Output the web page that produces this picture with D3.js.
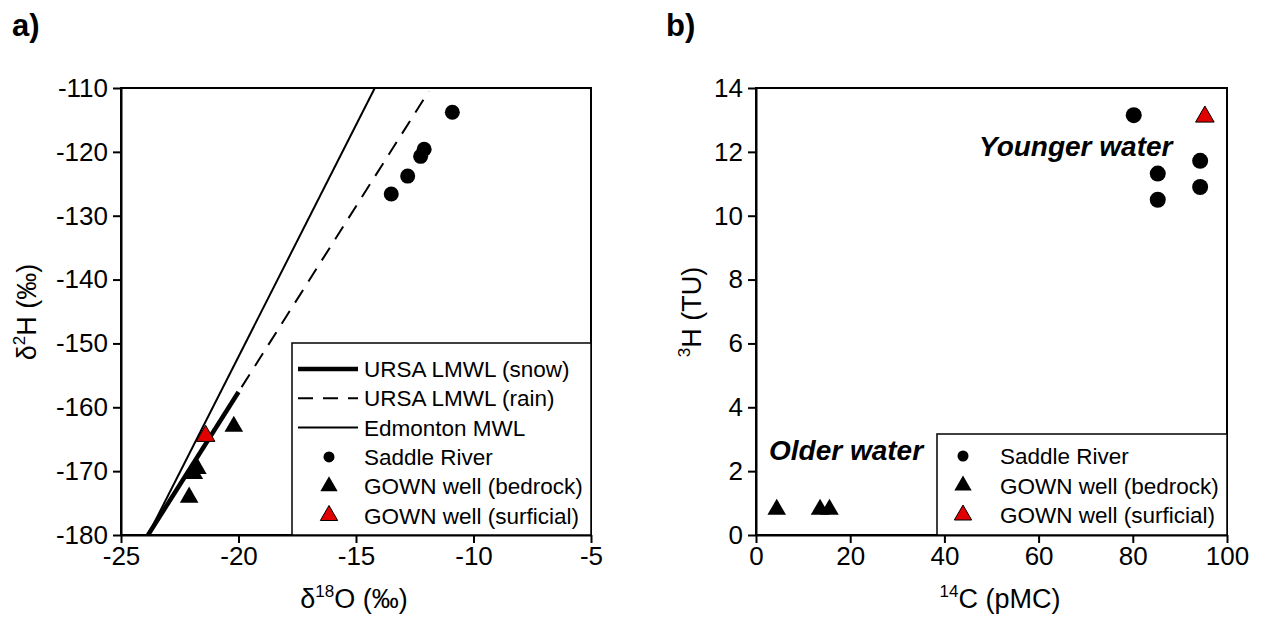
<!DOCTYPE html>
<html>
<head>
<meta charset="utf-8">
<script src="https://cdn.jsdelivr.net/npm/d3@7"></script>
<style>
  body { margin: 0; background: #fff; }
  svg { font-family: "Liberation Sans", Arial, sans-serif; }
  .axis path, .axis line { stroke: #000; stroke-width: 2; }
  .axis text { font-size: 26px; fill: #000; font-family: "Liberation Sans", Arial, sans-serif; }
</style>
</head>
<body>
<script>
// panel a: stable isotopes
var saddleO = [-10.9, -12.1, -12.25, -12.8, -13.5];
var saddleH = [-113.8, -119.6, -120.7, -123.8, -126.6];
var bedrockO = [-20.2, -21.75, -21.9, -22.1];
var bedrockH = [-163.0, -169.6, -170.4, -174.1];
var surficialO = [-21.4];
var surficialH = [-164.5];
// water lines (endpoints)
var snowLine = [[-23.85, -180], [-20.0, -157.6]];
var rainLine = [[-23.85, -180], [-11.9, -110.5]];
var edmontonLine = [[-23.85, -180], [-14.2, -110]];
var xTicksA = [-25, -20, -15, -10, -5];
var yTicksA = [-180, -170, -160, -150, -140, -130, -120, -110];

// panel b: 14C vs tritium
var saddleC = [80.2, 94.3, 85.3, 94.3, 85.3];
var saddleT = [13.15, 11.72, 11.32, 10.9, 10.5];
var bedrockC = [4.4, 13.6, 15.6];
var bedrockT = [0.8, 0.8, 0.8];
var surficialC = [95.3];
var surficialT = [13.1];
var xTicksB = [0, 20, 40, 60, 80, 100];
var yTicksB = [0, 2, 4, 6, 8, 10, 12, 14];

var legendA = ["URSA LMWL (snow)", "URSA LMWL (rain)", "Edmonton MWL", "Saddle River", "GOWN well (bedrock)", "GOWN well (surficial)"];
var legendB = ["Saddle River", "GOWN well (bedrock)", "GOWN well (surficial)"];

var svg = d3.select("body").append("svg")
  .attr("width", 1264)
  .attr("height", 617);

var plotTop = 88, plotBottom = 535;
var red = "#e00000";
var tri = d3.symbol().type(d3.symbolTriangle).size(150);
var triSmall = d3.symbol().type(d3.symbolTriangle).size(130);

// ---------- panel a ----------
var xA = d3.scaleLinear().domain([-25, -5]).range([121, 591]);
var yA = d3.scaleLinear().domain([-180, -110]).range([plotBottom, plotTop]);
var gA = svg.append("g");

gA.append("rect")
  .attr("x", 121).attr("y", plotTop)
  .attr("width", 470).attr("height", plotBottom - plotTop)
  .attr("fill", "none").attr("stroke", "#000").attr("stroke-width", 2);

gA.append("g").attr("class", "axis")
  .attr("transform", `translate(0,${plotBottom})`)
  .call(d3.axisBottom(xA).tickValues(xTicksA).tickSize(8).tickSizeOuter(0).tickPadding(4).tickFormat(d => String(d)));

gA.append("g").attr("class", "axis")
  .attr("transform", "translate(121,0)")
  .call(d3.axisLeft(yA).tickValues(yTicksA).tickSize(8).tickSizeOuter(0).tickPadding(5).tickFormat(d => String(d)));

var lineA = d3.line().x(d => xA(d[0])).y(d => yA(d[1]));

gA.append("path").attr("d", lineA(edmontonLine))
  .attr("fill", "none").attr("stroke", "#000").attr("stroke-width", 2);
gA.append("path").attr("d", lineA(rainLine))
  .attr("fill", "none").attr("stroke", "#000").attr("stroke-width", 2)
  .attr("stroke-dasharray", "15,10");
gA.append("path").attr("d", lineA(snowLine))
  .attr("fill", "none").attr("stroke", "#000").attr("stroke-width", 4.5);

gA.selectAll(".sr").data(saddleO).enter().append("circle")
  .attr("cx", d => xA(d))
  .attr("cy", (d, i) => yA(saddleH[i]))
  .attr("r", 7.5).attr("fill", "#000");

gA.selectAll(".bd").data(bedrockO).enter().append("path")
  .attr("d", tri)
  .attr("transform", (d, i) => `translate(${xA(d)},${yA(bedrockH[i])})`)
  .attr("fill", "#000");

gA.selectAll(".sf").data(surficialO).enter().append("path")
  .attr("d", tri)
  .attr("transform", (d, i) => `translate(${xA(d)},${yA(surficialH[i])})`)
  .attr("fill", red).attr("stroke", "#000").attr("stroke-width", 1);

// legend a
var legA = gA.append("g");
legA.append("rect")
  .attr("x", 292).attr("y", 343)
  .attr("width", 299).attr("height", plotBottom - 343)
  .attr("fill", "#fff").attr("stroke", "#000").attr("stroke-width", 1.5);
var rowsA = legA.selectAll(".row").data(legendA).enter().append("g")
  .attr("transform", (d, i) => `translate(0,${369 + i * 29.3})`);
rowsA.append("text")
  .attr("x", 364).attr("y", 8)
  .style("font-size", "22.5px")
  .text(d => d);
rowsA.filter((d, i) => i < 3).append("line")
  .attr("x1", 298).attr("x2", 358)
  .attr("stroke", "#000")
  .attr("stroke-width", (d, i) => i === 0 ? 4.5 : 2)
  .attr("stroke-dasharray", (d, i) => i === 1 ? "15,10" : null);
rowsA.filter((d, i) => i === 3).append("circle")
  .attr("cx", 329).attr("r", 5.5).attr("fill", "#000");
rowsA.filter((d, i) => i === 4).append("path")
  .attr("d", triSmall).attr("transform", "translate(329,0)").attr("fill", "#000");
rowsA.filter((d, i) => i === 5).append("path")
  .attr("d", triSmall).attr("transform", "translate(329,0)")
  .attr("fill", red).attr("stroke", "#000").attr("stroke-width", 1);

// axis titles a
var tA = gA.append("text")
  .attr("x", 354).attr("y", 608)
  .attr("text-anchor", "middle")
  .style("font-size", "27px");
tA.append("tspan").text("δ");
tA.append("tspan").text("18").style("font-size", "17px").attr("dy", -11);
tA.append("tspan").text("O (‰)").attr("dy", 11);

var yTA = gA.append("text")
  .attr("transform", "translate(36,312) rotate(-90)")
  .attr("text-anchor", "middle")
  .style("font-size", "27px");
yTA.append("tspan").text("δ");
yTA.append("tspan").text("2").style("font-size", "17px").attr("dy", -11);
yTA.append("tspan").text("H (‰)").attr("dy", 11);

svg.append("text")
  .attr("x", 12).attr("y", 36)
  .style("font-size", "31px").style("font-weight", "bold")
  .text("a)");

// ---------- panel b ----------
var xB = d3.scaleLinear().domain([0, 100]).range([756, 1227]);
var yB = d3.scaleLinear().domain([0, 14]).range([plotBottom, plotTop]);
var gB = svg.append("g");

gB.append("rect")
  .attr("x", 756).attr("y", plotTop)
  .attr("width", 471).attr("height", plotBottom - plotTop)
  .attr("fill", "none").attr("stroke", "#000").attr("stroke-width", 2);

gB.append("g").attr("class", "axis")
  .attr("transform", `translate(0,${plotBottom})`)
  .call(d3.axisBottom(xB).tickValues(xTicksB).tickSize(8).tickSizeOuter(0).tickPadding(4));

gB.append("g").attr("class", "axis")
  .attr("transform", "translate(756,0)")
  .call(d3.axisLeft(yB).tickValues(yTicksB).tickSize(8).tickSizeOuter(0).tickPadding(5));

gB.selectAll(".sr").data(saddleC).enter().append("circle")
  .attr("cx", d => xB(d))
  .attr("cy", (d, i) => yB(saddleT[i]))
  .attr("r", 8).attr("fill", "#000");

gB.selectAll(".bd").data(bedrockC).enter().append("path")
  .attr("d", tri)
  .attr("transform", (d, i) => `translate(${xB(d)},${yB(bedrockT[i])})`)
  .attr("fill", "#000");

gB.selectAll(".sf").data(surficialC).enter().append("path")
  .attr("d", tri)
  .attr("transform", (d, i) => `translate(${xB(d)},${yB(surficialT[i])})`)
  .attr("fill", red).attr("stroke", "#000").attr("stroke-width", 1);

gB.append("text")
  .attr("x", 979).attr("y", 156)
  .style("font-size", "28px").style("font-weight", "bold").style("font-style", "italic")
  .text("Younger water");
gB.append("text")
  .attr("x", 769).attr("y", 460)
  .style("font-size", "28px").style("font-weight", "bold").style("font-style", "italic")
  .text("Older water");

// legend b
var legB = gB.append("g");
legB.append("rect")
  .attr("x", 937).attr("y", 434)
  .attr("width", 290).attr("height", plotBottom - 434)
  .attr("fill", "#fff").attr("stroke", "#000").attr("stroke-width", 1.5);
var rowsB = legB.selectAll(".row").data(legendB).enter().append("g")
  .attr("transform", (d, i) => `translate(0,${456 + i * 29.5})`);
rowsB.append("text")
  .attr("x", 1000).attr("y", 8)
  .style("font-size", "22.5px")
  .text(d => d);
rowsB.filter((d, i) => i === 0).append("circle")
  .attr("cx", 963).attr("r", 5.5).attr("fill", "#000");
rowsB.filter((d, i) => i === 1).append("path")
  .attr("d", triSmall).attr("transform", "translate(963,0)").attr("fill", "#000");
rowsB.filter((d, i) => i === 2).append("path")
  .attr("d", triSmall).attr("transform", "translate(963,0)")
  .attr("fill", red).attr("stroke", "#000").attr("stroke-width", 1);

var tB = gB.append("text")
  .attr("x", 1000).attr("y", 608)
  .attr("text-anchor", "middle")
  .style("font-size", "27px");
tB.append("tspan").text("14").style("font-size", "17px").attr("dy", -11);
tB.append("tspan").text("C (pMC)").attr("dy", 11);

var yTB = gB.append("text")
  .attr("transform", "translate(701,312) rotate(-90)")
  .attr("text-anchor", "middle")
  .style("font-size", "27px");
yTB.append("tspan").text("3").style("font-size", "17px").attr("dy", -11);
yTB.append("tspan").text("H (TU)").attr("dy", 11);

svg.append("text")
  .attr("x", 666).attr("y", 36)
  .style("font-size", "31px").style("font-weight", "bold")
  .text("b)");
</script>
</body>
</html>
